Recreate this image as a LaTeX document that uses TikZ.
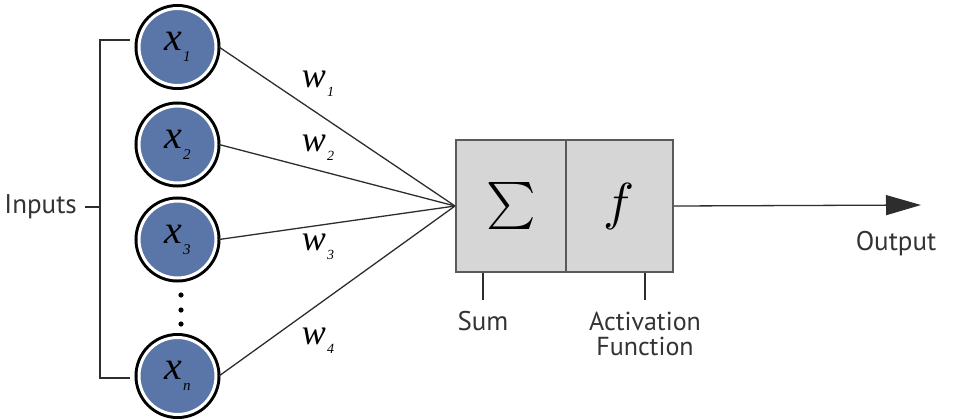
\documentclass[tikz,border=0pt]{standalone}
\usepackage{fontspec}
\usepackage{graphicx}
\setmainfont{PT Sans}
\newfontfamily\serifit{Liberation Serif}
\usetikzlibrary{arrows.meta}
\definecolor{nodeblue}{RGB}{90,118,168}
\definecolor{boxgray}{RGB}{214,214,214}
\definecolor{boxedge}{RGB}{90,90,90}
\definecolor{linegray}{RGB}{45,45,45}
\newcommand{\invar}[2]{{\serifit\itshape\fontsize{40}{40}\selectfont #1\kern1pt\raisebox{-11pt}{\fontsize{15}{15}\selectfont #2}}}
\newcommand{\wvar}[2]{{\serifit\itshape\fontsize{36}{36}\selectfont #1\kern1pt\raisebox{-9pt}{\fontsize{14}{14}\selectfont #2}}}
\begin{document}
\begin{tikzpicture}[x=1pt,y=-1pt,
  inputnode/.style={circle, minimum size=77pt, inner sep=0pt, fill=nodeblue,
    draw=white, line width=3pt, preaction={draw=black, line width=9pt}, outer sep=3pt},
  blockbox/.style={rectangle, fill=boxgray, draw=boxedge, line width=2pt, minimum height=132pt, inner sep=0pt},
  wire/.style={draw=linegray, line width=1.3pt},
  lbl/.style={font=\fontsize{26}{26}\selectfont, text=black!80, inner sep=0pt, align=center}]
\useasboundingbox (0,0) rectangle (966,418);
% input neurons
\node[inputnode] (x1) at (177.5,47) {\invar{x}{1}};
\node[inputnode] (x2) at (177.5,144.5) {\invar{x}{2}};
\node[inputnode] (x3) at (177.5,239.5) {\invar{x}{3}};
\node[inputnode] (xn) at (177.5,376) {\invar{x}{n}};
% dots
\fill[black] (181,295) circle[radius=2.6];
\fill[black] (181,310) circle[radius=2.6];
\fill[black] (181,324) circle[radius=2.6];
% blocks
\node[blockbox, minimum width=110pt] (sum) at (511,206) {\scalebox{4.7}{$\sum$}};
\node[blockbox, minimum width=107pt] (act) at (619.5,206) {\scalebox{5.2}{$f$}};
% connections
\draw[wire] (x1.east) -- (sum.west);
\draw[wire] (x2.east) -- (sum.west);
\draw[wire] (x3.east) -- (sum.west);
\draw[wire] (xn.east) -- (sum.west);
% weights
\node (w1) at (318,84) {\wvar{w}{1}};
\node (w2) at (318,148) {\wvar{w}{2}};
\node (w3) at (318,247) {\wvar{w}{3}};
\node (w4) at (318,341) {\wvar{w}{4}};
% bracket
\coordinate (bt) at (100,40);
\coordinate (bb) at (100,378);
\coordinate (btr) at (130,40);
\coordinate (bbr) at (130,378);
\coordinate (bm) at (100,207);
\coordinate (bml) at (85,207);
\draw[wire] (btr) -- (bt) -- (bb) -- (bbr);
\draw[wire] (bm) -- (bml);
\node[lbl, font=\fontsize{27}{27}\selectfont, anchor=east] (inputs) at (77,207) {Inputs};
% output
\coordinate (outend) at (921,205);
\draw[wire, -{Triangle[length=35pt,width=20pt]}] (act.east) -- (outend);
\node[lbl, font=\fontsize{27}{27}\selectfont] (output) at (896,244) {Output};
% sum / activation labels
\coordinate (sumtick) at (483,300);
\coordinate (acttick) at (645,300);
\draw[wire] (sumtick |- sum.south) -- (sumtick);
\draw[wire] (acttick |- act.south) -- (acttick);
\node[lbl, font=\fontsize{27}{27}\selectfont] (sumlbl) at (483,321) {Sum};
\node[lbl, anchor=base] (actlbl1) at (645,330) {Activation};
\node[lbl, anchor=base] (actlbl2) at (645,355) {Function};
\end{tikzpicture}
\end{document}
